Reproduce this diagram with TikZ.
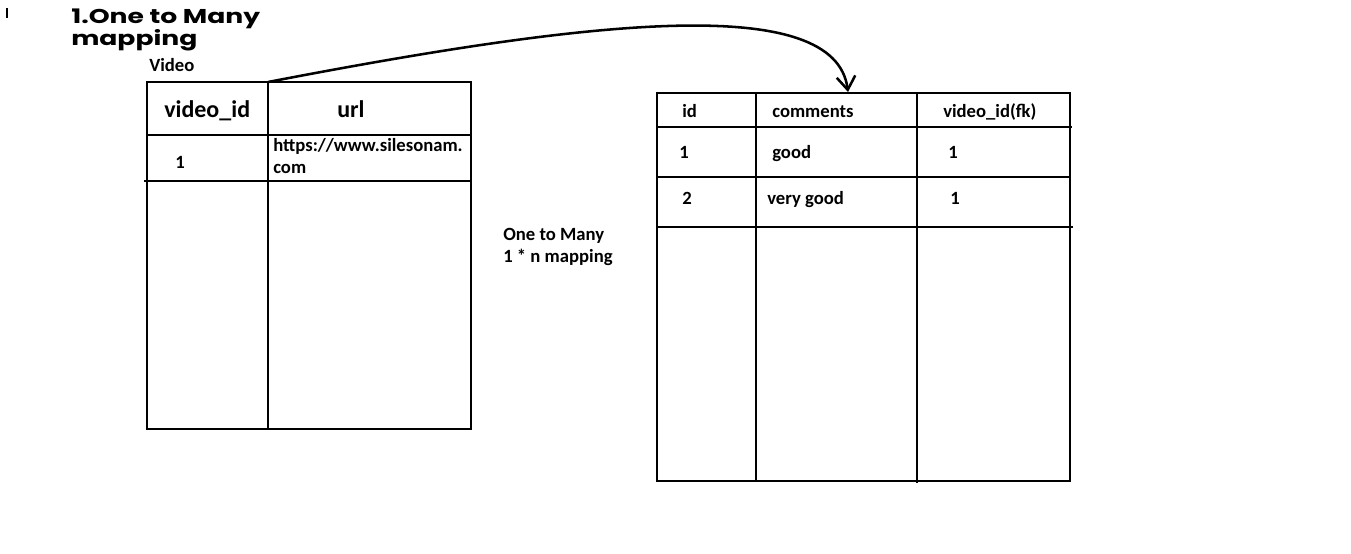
\documentclass[tikz,border=0pt]{standalone}
\usepackage{fontspec}
\setmainfont{Carlito}
\newfontfamily\titlefont[FakeStretch=1.33]{Poppins}
\usetikzlibrary{arrows.meta}

\tikzset{
  tabline/.style={line width=2.2pt},
  cell/.style={inner sep=0pt, anchor=base west, font=\bfseries\fontsize{14}{16}\selectfont},
  headbig/.style={inner sep=0pt, anchor=base west, font=\bfseries\fontsize{18}{20}\selectfont},
}

\begin{document}
\begin{tikzpicture}[x=0.75pt, y=-0.75pt]
		%%%%% START %%%%%
		\useasboundingbox (0,0) rectangle (1351,553);
		
		\draw[line width=0.8pt] (7,8) -- (7,18);
		% multi-line nodes: base is the last line
		\node[anchor=base west, align=left, inner sep=0pt, font=\titlefont\bfseries\fontsize{15}{16}\selectfont] (title) at (71,45) {1.One to Many\\mapping};
		
		% video table
		\node[cell] (vidlabel) at (149,71) {Video};
		\draw[tabline] (147,82) rectangle (471,429);
		\draw[tabline] (268,82) -- (268,429);
		\draw[tabline] (147,135) -- (471,135);
		\draw[tabline] (144,181) -- (471,181);
		\node[headbig] (vidid) at (164,117) {video\_id};
		\node[headbig] (url) at (337,117) {url};
		\node[cell] (vidone) at (175,168) {1};
		\node[cell, align=left] (urlval) at (273,173) {https://www.silesonam.\\com};
		
		\node[cell, align=left] (maptext) at (503,262) {One to Many\\1 * n mapping};
		
		% comment table
		\draw[tabline] (657,93) rectangle (1070,481);
		\draw[tabline] (756,93) -- (756,481);
		\draw[tabline] (917,93) -- (917,483);
		\draw[tabline] (657,127) -- (1072,127);
		\draw[tabline] (657,177) -- (1070,177);
		\draw[tabline] (657,227) -- (1073,227);
		\node[cell] (cid) at (682,117) {id};
		\node[cell] (ccomm) at (772,117) {comments};
		\node[cell] (cfk) at (943,117) {video\_id(fk)};
		\node[cell] (idone) at (679,158) {1};
		\node[cell] (good) at (772,158) {good};
		\node[cell] (fkone) at (948,158) {1};
		\node[cell] (idtwo) at (682,204) {2};
		\node[cell] (vgood) at (767,204) {very good};
		\node[cell] (fktwo) at (950,204) {1};
		
		\coordinate (vidtop) at (268,82);
		\coordinate (cmttop) at (848,92);
		\draw[line width=1.9pt, -{Straight Barb[length=10pt,width=14pt]}] (vidtop) .. controls (590,20) and (835,-8) .. (cmttop);
		
		%%%%% END %%%%%
\end{tikzpicture}
\end{document}
